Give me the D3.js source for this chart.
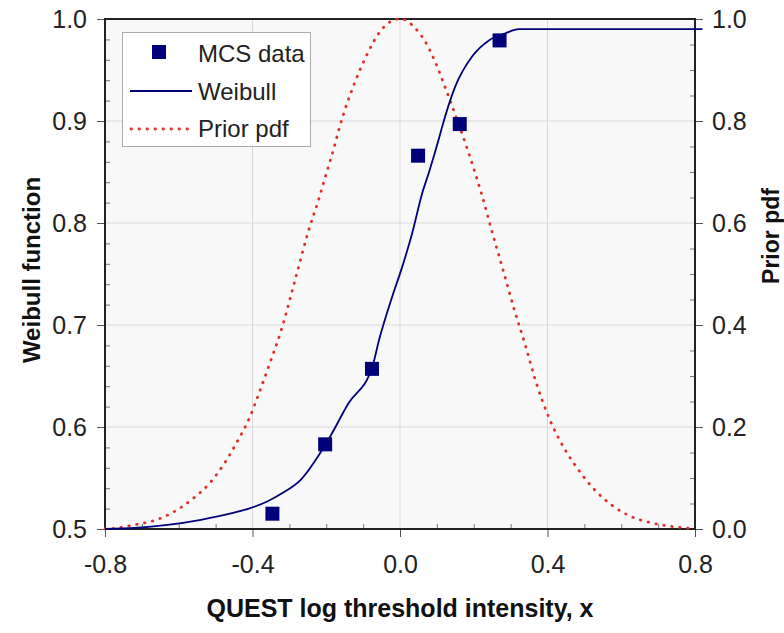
<!DOCTYPE html>
<html><head><meta charset="utf-8">
<script src="https://cdn.jsdelivr.net/npm/d3@7"></script>
<style>body{margin:0;background:#fff}svg{display:block}text{font-family:"Liberation Sans",Arial,sans-serif}</style>
</head><body>
<svg id="c" width="784" height="633"></svg>
<script>
// Data
const mcsX = [-0.346, -0.203, -0.076, 0.049, 0.162, 0.270];
const mcsY = [0.515, 0.583, 0.657, 0.866, 0.897, 0.979];

const weibullX = [-0.80,-0.72,-0.63,-0.54,-0.45,-0.41,-0.36,-0.32,-0.27,-0.20,-0.14,-0.075,-0.057,-0.021,0.006,0.033,0.060,0.078,0.105,0.114,0.150,0.195,0.241,0.286,0.322,0.80,0.82];
const weibullY = [0.500,0.501,0.504,0.509,0.516,0.520,0.527,0.535,0.548,0.584,0.623,0.659,0.685,0.728,0.757,0.790,0.829,0.849,0.882,0.894,0.934,0.963,0.979,0.986,0.990,0.990,0.990];

const priorX = [-0.80,-0.777,-0.723,-0.669,-0.620,-0.566,-0.516,-0.476,-0.444,-0.404,-0.383,-0.354,-0.322,-0.282,-0.250,-0.219,-0.201,-0.178,-0.165,-0.120,-0.093,-0.049,-0.020,0.0,0.020,0.033,0.069,0.096,0.123,0.151,0.178,0.195,0.222,0.250,0.277,0.308,0.340,0.371,0.403,0.448,0.484,0.529,0.574,0.628,0.682,0.736,0.790,0.80];
const priorY = [0.000,0.001,0.008,0.016,0.031,0.057,0.090,0.129,0.168,0.225,0.265,0.323,0.390,0.495,0.580,0.650,0.694,0.750,0.785,0.880,0.925,0.980,0.997,1.000,0.996,0.988,0.955,0.915,0.865,0.810,0.755,0.718,0.655,0.582,0.514,0.435,0.360,0.283,0.220,0.155,0.116,0.076,0.047,0.024,0.012,0.005,0.001,0.000];

const xTicks = [-0.8,-0.4,0.0,0.4,0.8];
const yLeftTicks = [0.5,0.6,0.7,0.8,0.9,1.0];
const yRightTicks = [0.0,0.2,0.4,0.6,0.8,1.0];
const legendLabels = ["MCS data","Weibull","Prior pdf"];

const svg = d3.select("#c");
const x = d3.scaleLinear().domain([-0.8,0.8]).range([105,695]);
const yL = d3.scaleLinear().domain([0.5,1.0]).range([529,19]);
const yR = d3.scaleLinear().domain([0,1]).range([529,19]);
const navy = "#00007a", red = "#e0302a";

// plot background
svg.append("rect").attr("x",105).attr("y",19).attr("width",590).attr("height",510).attr("fill","#f8f8f8");

// gridlines
svg.append("g").selectAll("line").data([0.6,0.7,0.8,0.9]).join("line")
  .attr("x1",105).attr("x2",695).attr("y1",d=>yL(d)).attr("y2",d=>yL(d))
  .attr("stroke","#d9d9d9").attr("stroke-width",1);
svg.append("g").selectAll("line").data([-0.4,0.0,0.4]).join("line")
  .attr("y1",19).attr("y2",529).attr("x1",d=>x(d)).attr("x2",d=>x(d))
  .attr("stroke","#d9d9d9").attr("stroke-width",1);

// axes
const fmt = d => d.toFixed(1);
const axL = svg.append("g").attr("transform","translate(105,0)")
  .call(d3.axisLeft(yL).tickValues(yLeftTicks).tickFormat(fmt).tickSize(8).tickPadding(10));
const axLm = svg.append("g").attr("transform","translate(105,0)")
  .call(d3.axisRight(yL).tickValues(d3.range(0.52,1.0,0.02).filter(v=>Math.abs(v*10-Math.round(v*10))>0.01)).tickFormat("").tickSize(5));
const axB = svg.append("g").attr("transform","translate(0,529)")
  .call(d3.axisBottom(x).tickValues(xTicks).tickFormat(fmt).tickSize(8).tickPadding(18));
const axBm = svg.append("g").attr("transform","translate(0,529)")
  .call(d3.axisTop(x).tickValues([-0.7,-0.6,-0.5,-0.3,-0.2,-0.1,0.1,0.2,0.3,0.5,0.6,0.7]).tickFormat("").tickSize(5));
const axR = svg.append("g").attr("transform","translate(695,0)")
  .call(d3.axisRight(yR).tickValues(yRightTicks).tickFormat(fmt).tickSize(8).tickPadding(9));
const axRm = svg.append("g").attr("transform","translate(695,0)")
  .call(d3.axisLeft(yR).tickValues(d3.range(0.05,1.0,0.05).filter(v=>Math.abs(v*5-Math.round(v*5))>0.01)).tickFormat("").tickSize(5));
[axL,axB,axR].forEach(a=>{a.selectAll(".domain").remove();a.selectAll("line").attr("stroke","#555");
  a.selectAll("text").attr("font-size",25).attr("fill","#222");});
[axLm,axBm,axRm].forEach(a=>{a.selectAll(".domain").remove();a.selectAll("line").attr("stroke","#777");});

// frame
svg.append("rect").attr("x",105).attr("y",19).attr("width",590).attr("height",510)
  .attr("fill","none").attr("stroke","#222").attr("stroke-width",2);

// prior pdf (right axis)
svg.append("path").datum(priorX.map((d,i)=>[d,priorY[i]]))
  .attr("d",d3.line().x(d=>x(d[0])).y(d=>yR(d[1])).curve(d3.curveMonotoneX))
  .attr("fill","none").attr("stroke",red).attr("stroke-width",2.8)
  .attr("stroke-dasharray","0.5,7.5").attr("stroke-linecap","round");

// weibull
svg.append("path").datum(weibullX.map((d,i)=>[d,weibullY[i]]))
  .attr("d",d3.line().x(d=>x(d[0])).y(d=>yL(d[1])).curve(d3.curveMonotoneX))
  .attr("fill","none").attr("stroke",navy).attr("stroke-width",1.8);

// MCS squares
svg.append("g").selectAll("rect").data(mcsX.map((d,i)=>[d,mcsY[i]])).join("rect")
  .attr("x",d=>x(d[0])-7).attr("y",d=>yL(d[1])-7).attr("width",14).attr("height",14)
  .attr("fill",navy);

// axis titles
svg.append("text").attr("transform","translate(40,270) rotate(-90)").attr("text-anchor","middle")
  .attr("font-size",24).attr("font-weight","bold").attr("fill","#111").text("Weibull function");
svg.append("text").attr("transform","translate(779,236) rotate(-90)").attr("text-anchor","middle")
  .attr("font-size",23).attr("font-weight","bold").attr("fill","#111").text("Prior pdf");
svg.append("text").attr("x",400).attr("y",617).attr("text-anchor","middle")
  .attr("font-size",25).attr("font-weight","bold").attr("fill","#111").text("QUEST log threshold intensity, x");

// legend
const lg = svg.append("g");
lg.append("rect").attr("x",122.5).attr("y",32.5).attr("width",188).attr("height",114)
  .attr("fill","#fff").attr("stroke","#aaa").attr("stroke-width",1);
lg.append("rect").attr("x",152).attr("y",45).attr("width",14).attr("height",14).attr("fill",navy);
lg.append("line").attr("x1",130).attr("x2",192).attr("y1",91).attr("y2",91).attr("stroke",navy).attr("stroke-width",1.8);
lg.append("line").attr("x1",131).attr("x2",192).attr("y1",129).attr("y2",129).attr("stroke",red)
  .attr("stroke-width",2.8).attr("stroke-dasharray","0.5,7.5").attr("stroke-linecap","round");
lg.selectAll("text").data(legendLabels).join("text")
  .attr("x",198).attr("y",(d,i)=>62+i*37.5).attr("font-size",24).attr("fill","#222").text(d=>d);
</script>
</body></html>
